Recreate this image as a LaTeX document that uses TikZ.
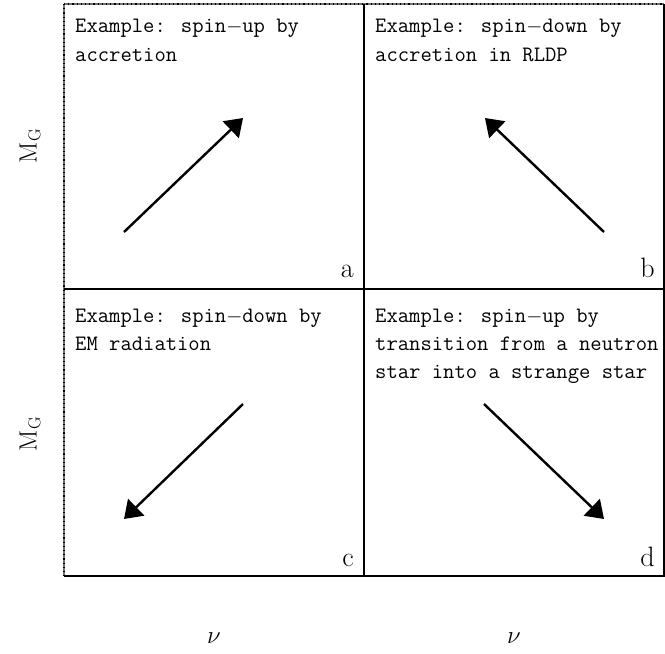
\documentclass[tikz,border=0pt]{standalone}
\usetikzlibrary{arrows.meta}
\begin{document}
\begin{tikzpicture}[x=1pt,y=-1pt,
  frame/.style={line width=1.3pt,black},
  tickedge/.style={line width=1.3pt,black!55},
  tickdots/.style={line width=1.3pt,black,dash pattern=on 1.2pt off 3pt},
  bigarrow/.style={line width=2.4pt,-{Triangle[length=17pt,width=23pt]}},
  txt/.style={anchor=base west,inner sep=0pt,font=\ttfamily\fontsize{22}{28}\selectfont},
  lab/.style={anchor=base east,inner sep=0pt,font=\fontsize{28}{32}\selectfont},
  axl/.style={inner sep=0pt,font=\fontsize{23}{27}\selectfont},
  nul/.style={inner sep=0pt,font=\fontsize{25}{29}\selectfont}]
\useasboundingbox (0,0) rectangle (665,654);
\fill[white] (0,0) rectangle (665,654);
% frame
\draw[tickedge] (64,4) -- (664,4);
\draw[tickdots] (64,4) -- (664,4);
\draw[tickedge] (64,4) -- (64,576);
\draw[tickdots] (64,4) -- (64,576);
\draw[frame] (664,4) -- (664,576) -- (64,576);
\draw[frame] (364,4) -- (364,576);
\draw[frame] (64,289) -- (664,289);
% texts
\node[txt] (ta1) at (75,32.5) {Example: spin$-$up by};
\node[txt] (ta2) at (75,61) {accretion};
\node[txt] (tb1) at (375,32.5) {Example: spin$-$down by};
\node[txt] (tb2) at (375,61) {accretion in RLDP};
\node[txt] (tc1) at (75,322) {Example: spin$-$down by};
\node[txt] (tc2) at (75,350) {EM radiation};
\node[txt] (td1) at (375,322) {Example: spin$-$up by};
\node[txt] (td2) at (375,350) {transition from a neutron};
\node[txt] (td3) at (375,378) {star into a strange star};
% panel labels
\node[lab] (la) at (354,277) {a};
\node[lab] (lb) at (655,277) {b};
\node[lab] (lc) at (354,566) {c};
\node[lab] (ld) at (655,566) {d};
% arrows
\coordinate (a0) at (124,232); \coordinate (a1) at (243,118);
\coordinate (b0) at (604,232); \coordinate (b1) at (485,118);
\coordinate (c0) at (243,404); \coordinate (c1) at (124,519);
\coordinate (d0) at (484,404); \coordinate (d1) at (604,519);
\draw[bigarrow] (a0) -- (a1);
\draw[bigarrow] (b0) -- (b1);
\draw[bigarrow] (c0) -- (c1);
\draw[bigarrow] (d0) -- (d1);
% axis labels
\node[axl,rotate=90] (my1) at (30,146) {$\mathrm{M_G}$};
\node[axl,rotate=90] (my2) at (30,434) {$\mathrm{M_G}$};
\node[nul] (nx1) at (214,638) {$\nu$};
\node[nul] (nx2) at (514,638) {$\nu$};
\end{tikzpicture}
\end{document}
